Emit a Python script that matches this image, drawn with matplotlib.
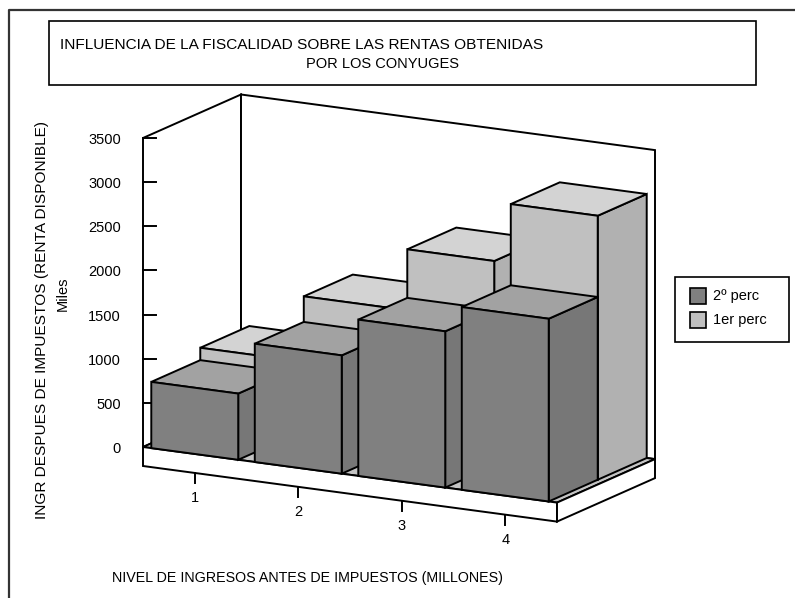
import numpy as np
import matplotlib
matplotlib.use("Agg")
import matplotlib.pyplot as plt
from matplotlib.patches import Polygon, Rectangle

plt.rcParams['font.family'] = ['Liberation Sans', 'DejaVu Sans']

# data
categories = ['1', '2', '3', '4']
perc_2 = [750, 1340, 1770, 2070]     # 2º perc (front row)
perc_1 = [890, 1630, 2320, 2990]     # 1er perc (back row)
value_ticks = [0, 500, 1000, 1500, 2000, 2500, 3000, 3500]

title_1 = 'INFLUENCIA DE LA FISCALIDAD SOBRE LAS RENTAS OBTENIDAS'
title_2 = 'POR LOS CONYUGES'
ylabel = 'INGR DESPUES DE IMPUESTOS (RENTA DISPONIBLE)'
ylabel_2 = 'Miles'
xlabel = 'NIVEL DE INGRESOS ANTES DE IMPUESTOS (MILLONES)'
series_names = ['2º perc', '1er perc']

# oblique projection (screen pixels, y down)
X0, Y0 = 143.0, 447.0          # front-left corner of floor at value 0
EX = (103.5, 13.9)             # one category step
ED = (98.0, -43.5)             # full depth of the floor
ZMAX = 3500.0
ZS = 309.0 / ZMAX              # pixels per value unit
SLAB = 19.0 / ZS               # floor slab thickness in value units
GAP = 0.08                     # gap on each side of a bar

def proj(x, d, z):
    return (X0 + x * EX[0] + d * ED[0], Y0 + x * EX[1] + d * ED[1] - z * ZS)

def face(ax, pts, color, lw=1.4, z=2):
    ax.add_patch(Polygon([proj(*p) for p in pts], closed=True, facecolor=color,
                         edgecolor='black', linewidth=lw, joinstyle='miter', zorder=z))

def box(ax, x0, x1, d0, d1, h, colors, z):
    front, top, side = colors
    face(ax, [(x1, d0, 0), (x1, d1, 0), (x1, d1, h), (x1, d0, h)], side, z=z)
    face(ax, [(x0, d0, h), (x1, d0, h), (x1, d1, h), (x0, d1, h)], top, z=z)
    face(ax, [(x0, d0, 0), (x1, d0, 0), (x1, d0, h), (x0, d0, h)], front, z=z)

fig = plt.figure(figsize=(7.95, 5.98), dpi=100)
ax = fig.add_axes([0, 0, 1, 1])
ax.set_xlim(0, 795)
ax.set_ylim(598, 0)
ax.axis('off')

# outer frame
ax.plot([9, 9, 800], [603, 10, 10], color='#333333', lw=1.6, zorder=1)

# title box
ax.add_patch(Rectangle((49, 21), 707, 64, facecolor='white', edgecolor='black', lw=1.2))
ax.text(60, 45, title_1, fontsize=11.1, ha='left', va='center')
ax.text(382, 64, title_2, fontsize=10.5, ha='center', va='center')

n = len(categories)

# walls
face(ax, [(0, 0, 0), (0, 0, ZMAX), (0, 1, ZMAX), (0, 1, 0)], 'white', z=1)
face(ax, [(0, 1, 0), (0, 1, ZMAX), (n, 1, ZMAX), (n, 1, 0)], 'white', z=1)

# floor slab
face(ax, [(0, 0, 0), (n, 0, 0), (n, 1, 0), (0, 1, 0)], '#c4c4c4', z=1.5)
face(ax, [(0, 0, -SLAB), (n, 0, -SLAB), (n, 0, 0), (0, 0, 0)], 'white', z=1.5)
face(ax, [(n, 0, -SLAB), (n, 1, -SLAB), (n, 1, 0), (n, 0, 0)], 'white', z=1.5)

# value axis ticks and labels
for v in value_ticks:
    px, py = proj(0, 0, v)
    ax.plot([px, px + 13], [py, py], color='black', lw=1.4, zorder=1.2)
    ax.text(121, py + 2, str(v), fontsize=10.5, ha='right', va='center')

# category ticks and labels
for i, c in enumerate(categories):
    px, py = proj(i + 0.5, 0, -SLAB)
    ax.plot([px, px], [py, py + 10], color='black', lw=1.4)
    ax.text(px, py + 25, c, fontsize=10.5, ha='center', va='center')

# bars: back row first, then front row, left to right
back_cols = ('#c0c0c0', '#d3d3d3', '#b1b1b1')
front_cols = ('#808080', '#a2a2a2', '#777777')
for i, v in enumerate(perc_1):
    box(ax, i + GAP, i + 1 - GAP, 0.5, 1.0, v, back_cols, z=3 + i * 0.1)
for i, v in enumerate(perc_2):
    box(ax, i + GAP, i + 1 - GAP, 0.0, 0.5, v, front_cols, z=4 + i * 0.1)

# axis titles
ax.text(42, 320, ylabel, fontsize=11.1, rotation=90, ha='center', va='center')
ax.text(63, 294, ylabel_2, fontsize=10.5, rotation=90, ha='center', va='center')
ax.text(308, 578, xlabel, fontsize=10.3, ha='center', va='center')

# legend
ax.add_patch(Rectangle((675, 277), 114, 65, facecolor='white', edgecolor='black', lw=1.2))
for k, (name, col) in enumerate(zip(series_names, [front_cols[0], back_cols[0]])):
    y = 296 + k * 24
    ax.add_patch(Rectangle((690, y - 8), 16, 16, facecolor=col, edgecolor='black', lw=1.2))
    ax.text(713, y, name, fontsize=10.5, ha='left', va='center')

fig.savefig('out.png', dpi=100)
